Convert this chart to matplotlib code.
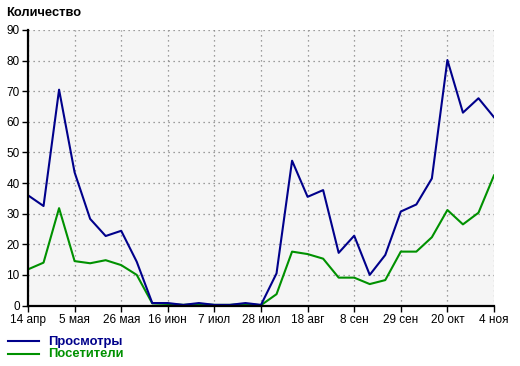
import matplotlib
matplotlib.use("Agg")
import matplotlib.pyplot as plt
from matplotlib.lines import Line2D

# weekly values
tick_labels = ["14 апр", "5 мая", "26 мая", "16 июн", "7 июл", "28 июл",
               "18 авг", "8 сен", "29 сен", "20 окт", "4 ноя"]
views = [36, 32.5, 70.5, 43.5, 28.3, 22.7, 24.4, 14.3, 0.8, 0.8, 0.2,
         0.8, 0.2, 0.2, 0.8, 0.2, 10.5, 47.3, 35.5, 37.7, 17.2, 22.8,
         10, 16.5, 30.7, 33, 41.5, 80.2, 63, 67.7, 61.5]
visitors = [11.8, 14, 31.8, 14.5, 13.8, 14.8, 13.2, 10, 0.7, 0.5, 0.2,
            0.5, 0.2, 0.2, 0.5, 0.1, 3.7, 17.6, 16.8, 15.3, 9.1, 9.1,
            7, 8.3, 17.6, 17.6, 22.3, 31.2, 26.5, 30.3, 42.5]
labels = ["Просмотры", "Посетители"]
colors = ["#00008b", "#009100"]

plt.rcParams['font.family'] = ['Liberation Sans', 'DejaVu Sans']

fig = plt.figure(figsize=(5.2, 3.66), dpi=100)
ax = fig.add_axes([28 / 520, 60.5 / 366, 466 / 520, 275.5 / 366])
ax.set_facecolor("#f5f5f5")

x = list(range(len(views)))
ax.plot(x, visitors, color=colors[1], lw=1.5)
ax.plot(x, views, color=colors[0], lw=1.5)

ax.set_xlim(0, len(views) - 1)
ax.set_ylim(0, 90)
ax.set_yticks(range(0, 91, 10))
ax.set_xticks(range(0, len(views), 3))
ax.set_xticklabels(tick_labels)

ax.grid(True, color="#808080", linestyle=(0, (1, 3)), lw=0.9)
for side in ["top", "right"]:
    ax.spines[side].set_visible(False)
for side in ["left", "bottom"]:
    ax.spines[side].set_linewidth(1.6)
ax.tick_params(axis="both", length=4, width=1, labelsize=8.5, pad=2)

fig.text(6 / 520, 1 - 13 / 366, "Количество", fontsize=9.3, fontweight="bold",
         va="center", ha="left")

# legend under the plot
for i, (lab, col) in enumerate(zip(labels, colors)):
    yy = 1 - (341 + 12.5 * i) / 366
    fig.add_artist(Line2D([8 / 520, 39 / 520], [yy, yy], color=col, lw=1.5))
    fig.text(48 / 520, yy - 0.5 / 366, lab, color=col, fontsize=9.4,
             fontweight="bold", va="center", ha="left")

fig.savefig("out.png", dpi=100)
